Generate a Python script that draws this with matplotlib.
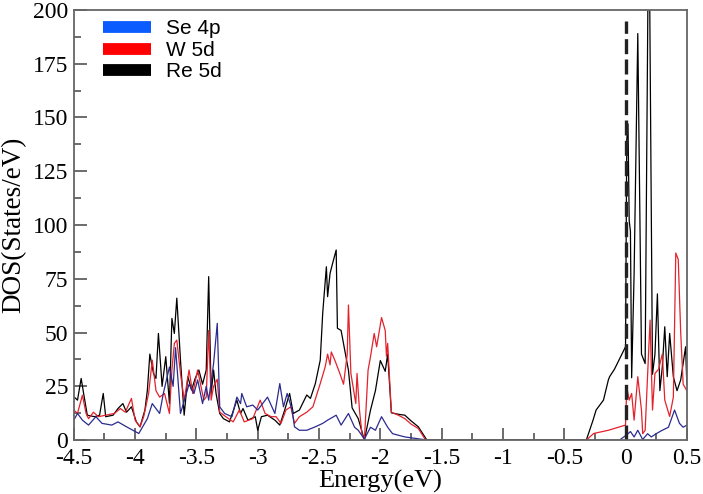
import matplotlib
matplotlib.use("Agg")
import matplotlib.pyplot as plt
from matplotlib.lines import Line2D
from matplotlib.ticker import MultipleLocator

# Se 4p
se_e = [-4.50, -4.47, -4.43, -4.38, -4.32, -4.27, -4.19, -4.14, -4.07, -3.97,
        -3.90, -3.86, -3.80, -3.77, -3.72, -3.69, -3.67, -3.63, -3.56, -3.52,
        -3.49, -3.45, -3.42, -3.40, -3.36, -3.33, -3.31, -3.27, -3.21, -3.17,
        -3.14, -3.13, -3.09, -3.04, -3.00, -2.96, -2.92, -2.86, -2.82, -2.79,
        -2.76, -2.72, -2.70, -2.66, -2.60, -2.53, -2.47, -2.43, -2.36, -2.32,
        -2.26, -2.21, -2.18, -2.13, -2.08, -2.04, -1.99, -1.94, -1.90, -1.80,
        -1.65, -1.60, -0.05, 0.01, 0.04, 0.07, 0.10, 0.14, 0.18, 0.21,
        0.25, 0.30, 0.35, 0.40, 0.44, 0.47, 0.50]
se_v = [9.3, 12.4, 9.3, 7, 10.9, 7.8, 7, 8.5, 6.2, 3.1,
        10, 17, 12.4, 21.7, 34, 25, 43, 12.4, 26, 21.7,
        28, 17, 25, 18.6, 35.6, 54.3, 15.5, 12.4, 10.9, 20,
        17, 21.7, 15.5, 16.3, 14, 17, 20, 12.4, 26.3, 15.5,
        21.7, 14, 6.2, 4.6, 4.6, 6.2, 7.8, 9.3, 11.6, 7,
        12.4, 6, 4.6, 0.5, 6, 4.6, 10.9, 6, 3, 1.5,
        0.3, 0, 0, 2.5, 4, 1.5, 4.6, 0.3, 3, 1.5,
        3, 4.6, 6, 14, 7.8, 6, 7]

# W 5d
w_e = [-4.50, -4.47, -4.43, -4.40, -4.38, -4.34, -4.30, -4.24, -4.17, -4.12,
       -4.08, -4.03, -4.00, -3.96, -3.93, -3.89, -3.86, -3.83, -3.80, -3.76,
       -3.72, -3.70, -3.68, -3.66, -3.63, -3.60, -3.56, -3.53, -3.49, -3.44,
       -3.42, -3.40, -3.38, -3.36, -3.33, -3.31, -3.26, -3.20, -3.15, -3.11,
       -3.04, -2.98, -2.94, -2.89, -2.85, -2.81, -2.77, -2.73, -2.70, -2.66,
       -2.60, -2.55, -2.49, -2.45, -2.43, -2.41, -2.40, -2.37, -2.33, -2.30,
       -2.27, -2.26, -2.24, -2.20, -2.19, -2.17, -2.15, -2.13, -2.10, -2.08,
       -2.05, -2.03, -1.99, -1.96, -1.95, -1.94, -1.91, -1.85, -1.80, -1.75,
       -1.69, -1.63, -0.32, -0.26, -0.14, 0.00, 0.01, 0.03, 0.05, 0.07,
       0.10, 0.13, 0.14, 0.16, 0.20, 0.22, 0.24, 0.27, 0.30, 0.32,
       0.36, 0.39, 0.41, 0.43, 0.45, 0.47, 0.50]
w_v = [14, 12.4, 20.9, 12.4, 10, 13, 10.9, 11.6, 12.4, 14.7,
       13, 19.4, 9.3, 6.2, 10.9, 21.7, 37.2, 23, 20, 21.7,
       12.4, 32.6, 45, 46.5, 31, 18.6, 32.6, 21.7, 32.6, 18.6,
       20, 51, 18.6, 25, 28.3, 13, 10.9, 8.5, 14, 8.5,
       10, 18.6, 12.4, 10.9, 10.9, 7.8, 14, 15.5, 7.8, 10.9,
       13, 15.5, 26.3, 34, 40, 35, 41, 37, 31, 26,
       40, 62.8, 31, 17, 31, 14, 3, 0, 32.5, 38.8,
       49.6, 43.4, 57, 51, 39, 45, 13, 11.5, 10, 7.5,
       5.4, 0, 0, 3.1, 4.6, 7, 24.8, 18.6, 21.7, 9.3,
       29.5, 14, 3, 4.6, 55.8, 14, 31, 33, 40, 18.6,
       11, 20, 87, 84, 50, 26, 23]

# Re 5d
re_e = [-4.50, -4.47, -4.44, -4.42, -4.39, -4.33, -4.29, -4.26, -4.24, -4.18,
        -4.14, -4.10, -4.07, -4.03, -3.99, -3.96, -3.92, -3.90, -3.88, -3.85,
        -3.83, -3.81, -3.78, -3.75, -3.72, -3.70, -3.68, -3.66, -3.63, -3.60,
        -3.57, -3.54, -3.51, -3.48, -3.45, -3.42, -3.40, -3.38, -3.36, -3.34,
        -3.31, -3.28, -3.23, -3.17, -3.14, -3.12, -3.08, -3.02, -3.00, -2.97,
        -2.92, -2.86, -2.82, -2.78, -2.74, -2.71, -2.66, -2.60, -2.57, -2.53,
        -2.49, -2.47, -2.44, -2.43, -2.41, -2.39, -2.36, -2.35, -2.32, -2.26,
        -2.23, -2.18, -2.13, -2.08, -2.04, -2.00, -1.96, -1.94, -1.91, -1.85,
        -1.80, -1.75, -1.69, -1.62, -0.32, -0.265, -0.24, -0.18, -0.14, -0.13,
        -0.09, 0.00, 0.01, 0.02, 0.03, 0.04, 0.05, 0.07, 0.10, 0.13,
        0.16, 0.19, 0.22, 0.24, 0.26, 0.28, 0.30, 0.32, 0.34, 0.36,
        0.39, 0.42, 0.45, 0.49, 0.50]
re_v = [20.2, 18.6, 28.7, 21.7, 11.6, 10.9, 11.6, 21.7, 10.9, 11.6,
        14.7, 17, 13, 15.5, 8.5, 6.2, 14, 23.3, 40, 31,
        28.7, 49.6, 25, 38.8, 17, 56.6, 49.6, 66, 37.2, 11.6,
        29.5, 23.3, 28.7, 32.6, 26, 32.6, 76, 21.7, 32.6, 21.7,
        12.4, 10, 8.5, 18.6, 12.4, 14.7, 9.3, 10.9, 4.6, 10.9,
        11.6, 9.3, 7, 14, 21.7, 12.4, 14, 21, 19.4, 26.3,
        37.2, 59, 80.6, 66.7, 77.5, 82, 88.4, 52, 51, 32.5,
        15, 10, 0, 14, 23, 37, 32, 40, 12.7, 12,
        11.6, 9, 6.2, 0, 0, 9.3, 14, 18.6, 28, 29.5,
        33, 43.4, 139.5, 147, 102, 97, 29, 77.5, 189, 40,
        35.6, 260, 30.6, 40, 68, 23, 34, 52.7, 29.5, 49.6,
        29.5, 23, 28, 43.4, 26]

labels = ["Se 4p", "W 5d", "Re 5d"]
line_colors = ["#2b2b8f", "#e3222c", "black"]
legend_colors = ["#0a5cff", "#ff0000", "black"]

fig = plt.figure(figsize=(7.03, 4.94), dpi=100)
ax = fig.add_axes([0.105, 0.109, 0.872, 0.871])

ax.plot(re_e, re_v, color=line_colors[2], lw=0.9)
ax.plot(w_e, w_v, color=line_colors[1], lw=0.9)
ax.plot(se_e, se_v, color=line_colors[0], lw=0.9)

# Fermi level
ax.plot([0, 0], [0, 195], color="#222222", lw=2.4, dashes=(4.5, 1.6))

ax.set_xlim(-4.5, 0.5)
ax.set_ylim(0, 200)
ax.xaxis.set_major_locator(MultipleLocator(0.5))
ax.xaxis.set_minor_locator(MultipleLocator(0.25))
ax.yaxis.set_major_locator(MultipleLocator(25))
ax.yaxis.set_minor_locator(MultipleLocator(12.5))
ax.set_xticks([-4.5, -4, -3.5, -3, -2.5, -2, -1.5, -1, -0.5, 0, 0.5])
ax.set_xticklabels(["-4.5", "-4", "-3.5", "-3", "-2.5", "-2", "-1.5", "-1", "-0.5", "0", "0.5"])

ax.tick_params(which="both", direction="in", labelsize=17, colors="#444444",
               labelcolor="black")
ax.tick_params(axis="x", pad=6)
ax.tick_params(axis="y", pad=4)
ax.tick_params(which="major", length=9, width=1.1)
ax.tick_params(which="minor", length=5, width=1.1)
for lab in ax.get_xticklabels() + ax.get_yticklabels():
    lab.set_family("Liberation Serif")
for s in ax.spines.values():
    s.set_color("#666666")
    s.set_linewidth(1.3)

ax.set_xlabel("Energy(eV)", family="Liberation Serif", fontsize=19)
ax.set_ylabel("DOS(States/eV)", family="Liberation Serif", fontsize=19.5)
ax.xaxis.set_label_coords(0.5, -0.068)
ax.yaxis.set_label_coords(-0.078, 0.5)

handles = [Line2D([0], [0], color=c, lw=8.5, solid_capstyle="butt") for c in legend_colors]
ax.legend(handles, labels, loc="upper left", bbox_to_anchor=(0.024, 1.012), frameon=False,
          prop={"family": "Liberation Sans", "size": 15}, handlelength=2.3,
          handletextpad=0.7, labelspacing=0.12, borderaxespad=0.3)

fig.savefig("out.png", dpi=100)
